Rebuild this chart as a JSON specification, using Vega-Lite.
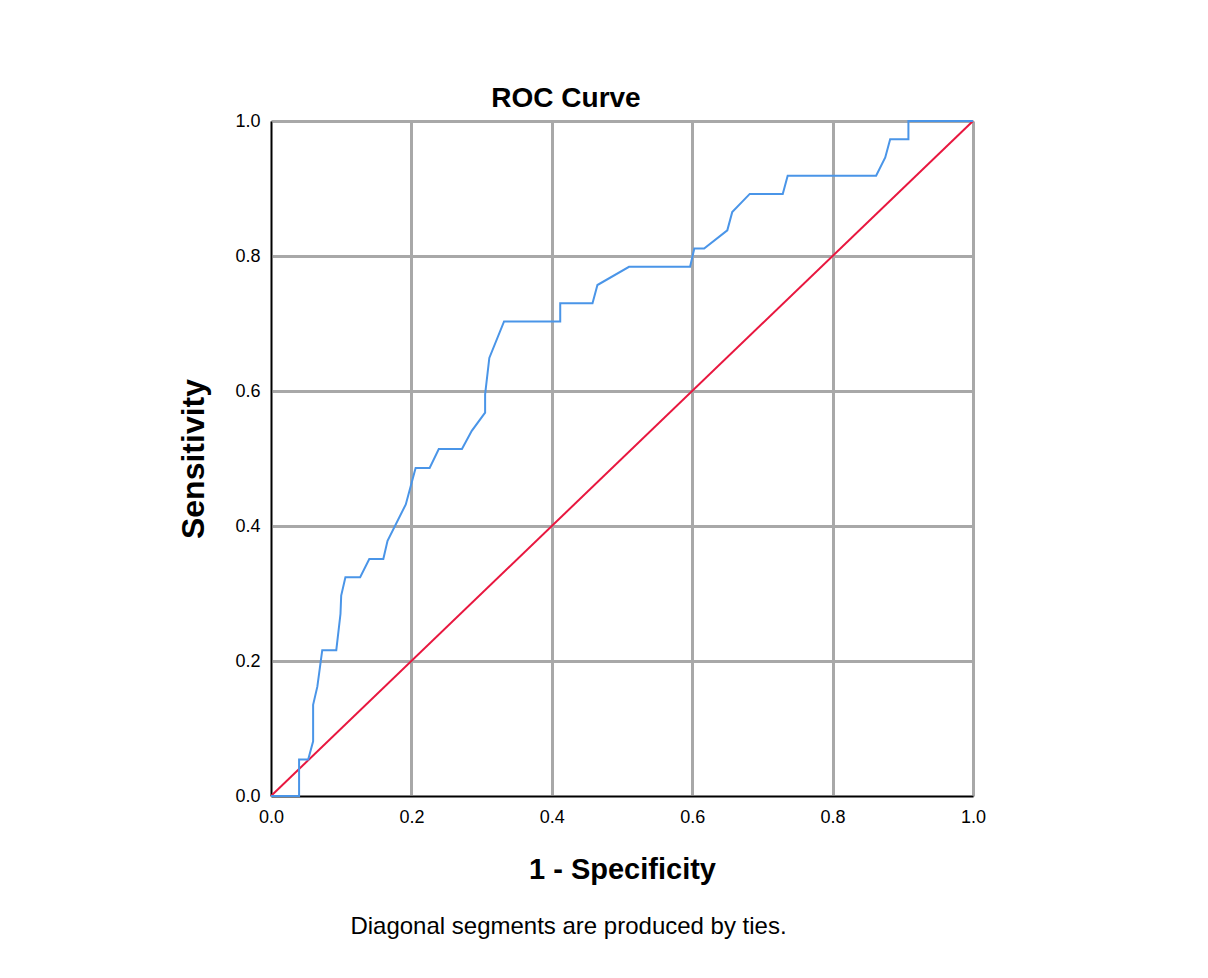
{
  "$schema": "https://vega.github.io/schema/vega-lite/v6.json",
  "autosize": {"type": "none"},
  "padding": {"left": 271, "top": 121, "right": 235, "bottom": 182},
  "width": 702,
  "height": 675,
  "background": "white",
  "title": {"text": "ROC Curve", "frame": "group", "anchor": "middle", "dx": -56, "dy": 37, "offset": 14, "baseline": "alphabetic", "font": "Liberation Sans", "fontSize": 28, "fontWeight": "bold", "color": "#000000"},
  "config": {
    "view": {"stroke": null},
    "axis": {"labelFont": "Liberation Sans", "titleFont": "Liberation Sans", "labelColor": "#000000", "titleColor": "#000000"}
  },
  "datasets": {
    "roc": [
      {"i": 0, "fpr": 0.0, "tpr": 0.0},
      {"i": 1, "fpr": 0.04, "tpr": 0.0},
      {"i": 2, "fpr": 0.04, "tpr": 0.054},
      {"i": 3, "fpr": 0.053, "tpr": 0.054},
      {"i": 4, "fpr": 0.06, "tpr": 0.081},
      {"i": 5, "fpr": 0.06, "tpr": 0.135},
      {"i": 6, "fpr": 0.066, "tpr": 0.162},
      {"i": 7, "fpr": 0.073, "tpr": 0.216},
      {"i": 8, "fpr": 0.093, "tpr": 0.216},
      {"i": 9, "fpr": 0.099, "tpr": 0.27},
      {"i": 10, "fpr": 0.1, "tpr": 0.297},
      {"i": 11, "fpr": 0.106, "tpr": 0.324},
      {"i": 12, "fpr": 0.127, "tpr": 0.324},
      {"i": 13, "fpr": 0.14, "tpr": 0.351},
      {"i": 14, "fpr": 0.16, "tpr": 0.351},
      {"i": 15, "fpr": 0.166, "tpr": 0.378},
      {"i": 16, "fpr": 0.192, "tpr": 0.432},
      {"i": 17, "fpr": 0.206, "tpr": 0.486},
      {"i": 18, "fpr": 0.226, "tpr": 0.486},
      {"i": 19, "fpr": 0.239, "tpr": 0.514},
      {"i": 20, "fpr": 0.272, "tpr": 0.514},
      {"i": 21, "fpr": 0.286, "tpr": 0.541},
      {"i": 22, "fpr": 0.305, "tpr": 0.568},
      {"i": 23, "fpr": 0.305, "tpr": 0.595},
      {"i": 24, "fpr": 0.311, "tpr": 0.649},
      {"i": 25, "fpr": 0.332, "tpr": 0.703},
      {"i": 26, "fpr": 0.412, "tpr": 0.703},
      {"i": 27, "fpr": 0.412, "tpr": 0.73},
      {"i": 28, "fpr": 0.458, "tpr": 0.73},
      {"i": 29, "fpr": 0.465, "tpr": 0.757},
      {"i": 30, "fpr": 0.51, "tpr": 0.784},
      {"i": 31, "fpr": 0.597, "tpr": 0.784},
      {"i": 32, "fpr": 0.603, "tpr": 0.811},
      {"i": 33, "fpr": 0.617, "tpr": 0.811},
      {"i": 34, "fpr": 0.65, "tpr": 0.838},
      {"i": 35, "fpr": 0.657, "tpr": 0.865},
      {"i": 36, "fpr": 0.682, "tpr": 0.892},
      {"i": 37, "fpr": 0.729, "tpr": 0.892},
      {"i": 38, "fpr": 0.736, "tpr": 0.919},
      {"i": 39, "fpr": 0.862, "tpr": 0.919},
      {"i": 40, "fpr": 0.875, "tpr": 0.946},
      {"i": 41, "fpr": 0.882, "tpr": 0.973},
      {"i": 42, "fpr": 0.908, "tpr": 0.973},
      {"i": 43, "fpr": 0.908, "tpr": 1.0},
      {"i": 44, "fpr": 1.0, "tpr": 1.0}
    ],
    "ref": [
      {"i": 0, "fpr": 0.0, "tpr": 0.0},
      {"i": 1, "fpr": 1.0, "tpr": 1.0}
    ]
  },
  "resolve": {"scale": {"x": "independent"}, "axis": {"x": "independent"}},
  "layer": [
    {
      "data": {"name": "ref"},
      "mark": {"type": "line", "color": "#e8173f", "strokeWidth": 2},
      "encoding": {
        "x": {"field": "fpr", "type": "quantitative", "scale": {"domain": [0, 1], "nice": false},
          "axis": {"orient": "bottom", "title": "1 - Specificity", "values": [0, 0.2, 0.4, 0.6, 0.8, 1.0], "format": ".1f",
            "grid": true, "gridColor": "#a8a8a8", "gridWidth": 3, "ticks": false, "tickSize": 0,
            "domainColor": "#000000", "domainWidth": 1.5, "labelFontSize": 18, "labelPadding": 12, "labelFlush": false,
            "titleFontSize": 29, "titleFontWeight": "bold", "titleBaseline": "alphabetic", "titleY": 82}},
        "y": {"field": "tpr", "type": "quantitative", "scale": {"domain": [0, 1], "nice": false},
          "axis": {"title": "Sensitivity", "values": [0, 0.2, 0.4, 0.6, 0.8, 1.0], "format": ".1f",
            "grid": true, "gridColor": "#a8a8a8", "gridWidth": 3, "ticks": false, "tickSize": 0,
            "domainColor": "#000000", "domainWidth": 1.5, "labelFontSize": 18, "labelPadding": 11, "labelFlush": false,
            "titleFontSize": 32, "titleFontWeight": "bold", "titleBaseline": "alphabetic", "titleX": -68, "titleY": 337.5}},
        "order": {"field": "i", "type": "quantitative"}
      }
    },
    {
      "data": {"name": "roc"},
      "mark": {"type": "line", "color": "#4a95e8", "strokeWidth": 2},
      "encoding": {
        "x": {"field": "fpr", "type": "quantitative", "scale": {"domain": [0, 1], "nice": false},
          "axis": {"orient": "bottom", "title": "Diagonal segments are produced by ties.", "labels": false, "ticks": false, "domain": false, "grid": false,
            "titleFontSize": 24, "titleFontWeight": "normal", "titleBaseline": "alphabetic", "titleAlign": "center", "titleX": 297, "titleY": 137}},
        "y": {"field": "tpr", "type": "quantitative"},
        "order": {"field": "i", "type": "quantitative"}
      }
    }
  ]
}
